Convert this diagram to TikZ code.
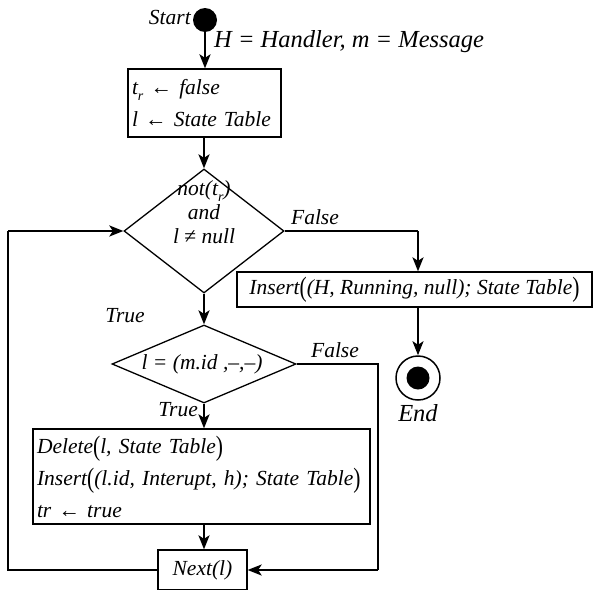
\documentclass[tikz,border=0pt]{standalone}
\usepackage{fontspec}
\usepackage{graphicx}
\setmainfont{Liberation Serif}
\usetikzlibrary{arrows.meta,shapes.geometric}

% enlarged outer parentheses
\newcommand\bpar[1]{\raisebox{-0.1em}{\scalebox{1}[1.3]{\upshape #1}}}
\newcommand\sub[1]{\raisebox{-0.3em}{\fontsize{14}{14}\selectfont #1}}
\newcommand\fsz{\fontsize{21.5}{32}\selectfont\itshape}

\tikzset{
  lbl/.style={font=\fsz, inner sep=0pt},
  big/.style={font=\fontsize{24.5}{28}\selectfont\itshape},
  box/.style={draw, line width=1.3pt, rectangle, inner xsep=4pt, inner ysep=0pt,
              font=\fsz, align=left},
  dia/.style={draw, line width=1.3pt, diamond, inner sep=0pt},
  flow/.style={line width=2pt, -{Stealth[length=14pt,width=11pt,inset=3.5pt]}},
  wire/.style={line width=2pt},
}

\begin{document}
\begin{tikzpicture}[x=1pt,y=-1pt]
\useasboundingbox (0,0) rectangle (593,589);

% start and end markers
\node[circle, fill=black, minimum size=24pt, inner sep=0pt] (start) at (205,20) {};
\node[lbl, anchor=east] (startlbl) at (191,17) {Start};
\node[lbl, big, anchor=west] (msg) at (214,42) {H = Handler, m = Message};

% initialisation box
\node[box, minimum width=153pt, minimum height=68pt, text width=145pt] (init) at (204.5,103)
  {t\sub{r} \upshape← \itshape false\\ l \upshape← \itshape State Table};

% first decision
\node[dia, minimum width=160pt, minimum height=124pt] (d1) at (204,231) {};
\node[lbl, align=center, font=\fontsize{21.5}{24}\selectfont\itshape] (d1txt) at (204,212)
  {not(t\sub{r})\\ and\\ l \upshape≠ \itshape null};

% insert into state table on exit
\node[box, minimum width=355pt, minimum height=35pt] (ins) at (414.5,289.5)
  {Insert\bpar{(}(H, Running, null); State Table\bpar{)}};
\node[circle, draw, line width=1.5pt, minimum size=44pt, inner sep=0pt] (end) at (418,378) {};
\node[circle, fill=black, minimum size=23pt, inner sep=0pt] (endin) at (end) {};
\node[lbl, big] (endlbl) at (418,413) {End};

% second decision
\node[dia, minimum width=184pt, minimum height=78pt] (d2) at (204,364) {};
\node[lbl] (d2txt) at (202,364) {l = (m.id ,–,–)};

% update box
\node[box, minimum width=337pt, minimum height=95pt, text width=329pt] (upd) at (201.5,476.5)
  {Delete\bpar{(}l, State Table\bpar{)}\\
   Insert\bpar{(}(l.id, Interupt, h); State Table\bpar{)}\\
   tr \upshape← \itshape true};

% advance to next entry
\node[box, minimum width=89pt, minimum height=40pt] (next) at (202.5,570) {Next(l)};

% branch labels
\node[lbl] (f1) at (315,217) {False};
\node[lbl] (t1) at (125,316) {True};
\node[lbl] (f2) at (335,350) {False};
\node[lbl, anchor=east] (t2) at (198,410) {True};

% connectors
\coordinate (c1) at (418,231);
\coordinate (c2) at (378,364);
\coordinate (c3) at (378,570);
\coordinate (c4) at (8,570);
\coordinate (c5) at (8,231);

\draw[flow] (start.south |- start.center) ++(0,12) -- (init.north -| start);
\draw[flow] (init.south -| d1) -- (d1.north);
\draw[wire] (d1.east) -- (c1);
\draw[flow] (c1) -- (ins.north -| c1);
\draw[flow] (ins.south -| end) -- (end.north);
\draw[flow] (d1.south) -- (d2.north);
\draw[wire] (d2.east) -- (c2) -- (c3);
\draw[flow] (c3) -- (next.east);
\draw[flow] (d2.south) -- (upd.north -| d2);
\draw[flow] (upd.south -| d2) -- (next.north -| d2);
\draw[wire] (next.west) -- (c4) -- (c5);
\draw[flow] (c5) -- (d1.west);
\end{tikzpicture}
\end{document}
